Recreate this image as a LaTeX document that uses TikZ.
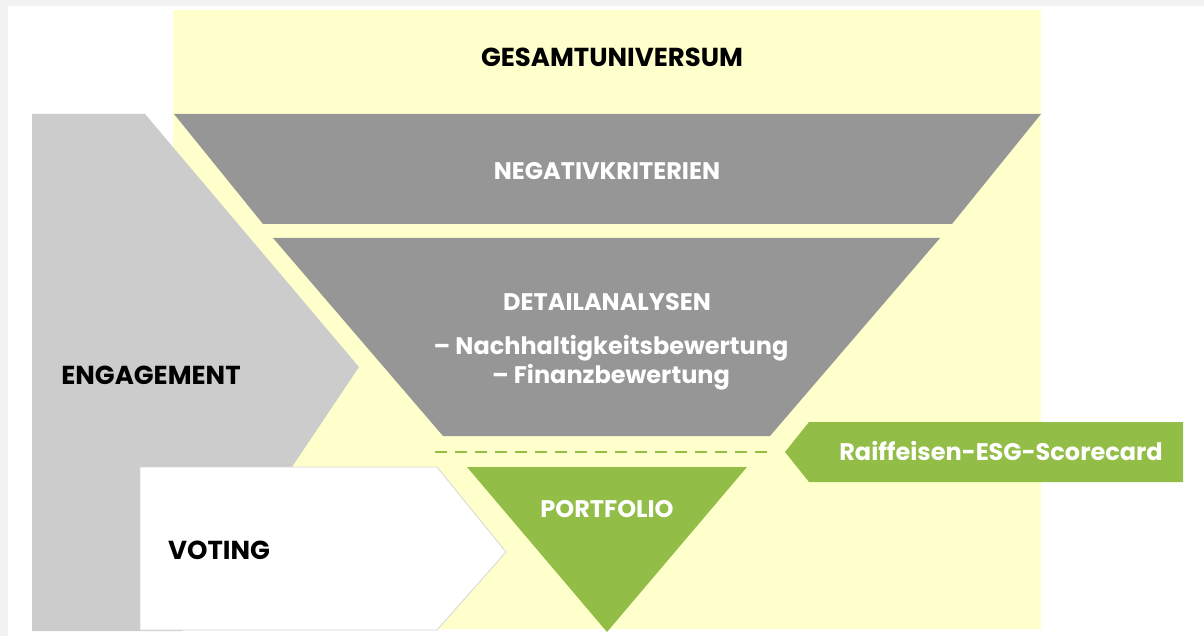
\documentclass[tikz,border=0pt]{standalone}
\usepackage{fontspec}
\setmainfont{Poppins}
\usetikzlibrary{positioning}

\definecolor{frame}{HTML}{F2F2F2}
\definecolor{univ}{HTML}{FFFFCC}
\definecolor{filter}{HTML}{969696}
\definecolor{engage}{HTML}{CCCCCC}
\definecolor{esg}{HTML}{92BE48}

\begin{document}
\begin{tikzpicture}[x=1pt,y=-1pt,
        dark/.style={font=\bfseries\fontsize{26}{31}\selectfont, inner sep=0pt, text=black},
        light/.style={font=\bfseries\fontsize{24}{29}\selectfont, inner sep=0pt, text=white}]
    \useasboundingbox (0,0) rectangle (1204,636);
    \fill[frame] (0,0) rectangle (1204,636);
    \fill[white] (8,6) rectangle (1204,636);

    % universe and funnel
    \fill[univ] (173,10) rectangle (1041,629);
    \fill[engage] (32,114) -- (145,114) -- (359,367) -- (182,631) -- (32,631) -- cycle;
    \fill[filter] (174,114) -- (1041,114) -- (952,224) -- (263,224) -- cycle;
    \fill[filter] (273,238) -- (940,238) -- (770,436) -- (443,436) -- cycle;
    \fill[esg] (467,467) -- (747,467) -- (607,632) -- cycle;
    \filldraw[white, draw=engage!80, line width=0.8pt]
        (140,467) -- (437,467) -- (506,552) -- (437,630) -- (140,630) -- cycle;
    \fill[esg] (809,422) -- (1183,422) -- (1183,482) -- (809,482) -- (785,452) -- cycle;

    \node[dark]  (univ)   at (612,57)  {GESAMTUNIVERSUM};
    \node[light] (neg)    at (607,171) {NEGATIVKRITERIEN};
    \node[light] (detail) at (607,302) {DETAILANALYSEN};
    \node[light, align=center] (crit) at (611,363)
        {– Nachhaltigkeitsbewertung\\– Finanzbewertung};
    \node[dark]  (eng)    at (151,375) {ENGAGEMENT};
    \node[dark]  (vote)   at (219,550) {VOTING};
    \node[light] (port)   at (607,509) {PORTFOLIO};
    \node[light] (score)  at (1001,451) {Raiffeisen-ESG-Scorecard};

    \coordinate (cutL) at (435,452);
    \coordinate (cutR) at (773,452);
    \draw[esg, line width=2.5pt, dash pattern=on 12pt off 8pt] (cutL) -- (cutR);
\end{tikzpicture}
\end{document}
